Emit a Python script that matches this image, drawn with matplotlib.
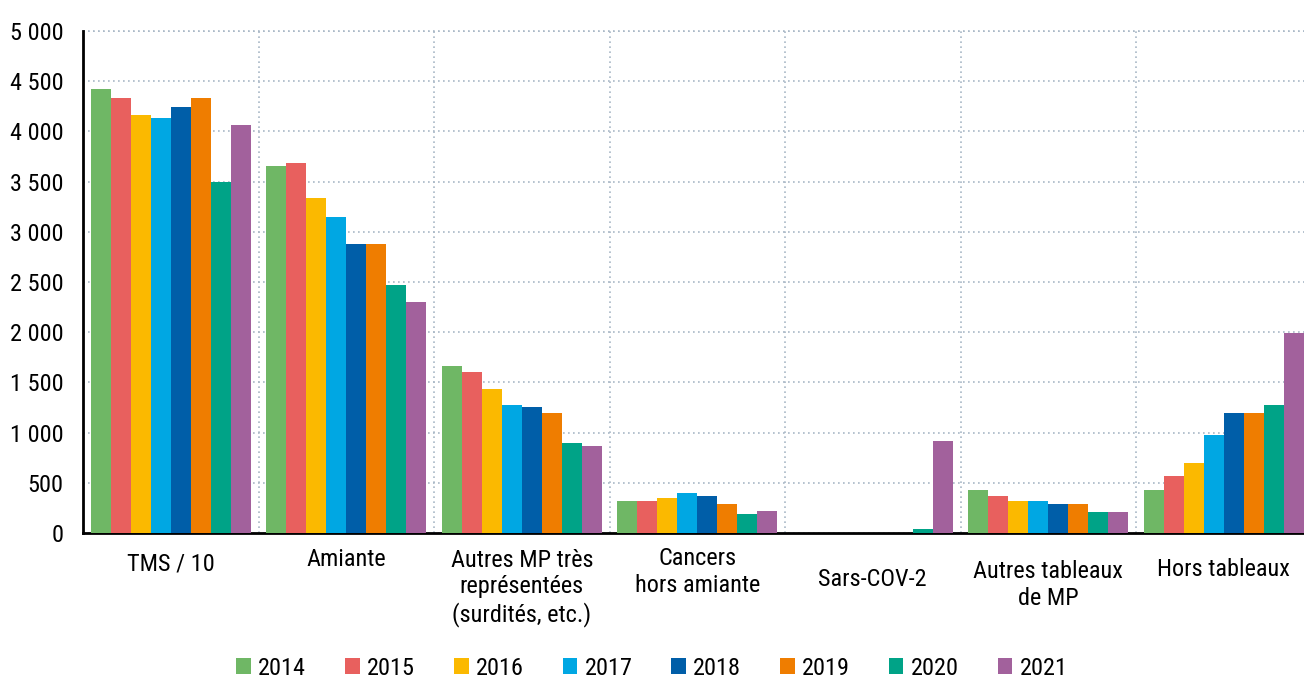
import numpy as np
import matplotlib
matplotlib.use("Agg")
import matplotlib.pyplot as plt
from matplotlib.ticker import FuncFormatter

plt.rcParams["font.family"] = ["Roboto Condensed", "Liberation Sans", "DejaVu Sans"]

categories = ["TMS / 10", "Amiante", "Autres MP très\nreprésentées\n(surdités, etc.)",
              "Cancers\nhors amiante", "Sars-COV-2", "Autres tableaux\nde MP", "Hors tableaux"]
years = ["2014", "2015", "2016", "2017", "2018", "2019", "2020", "2021"]

v2014 = [4420, 3655, 1663, 319, 0, 428, 428]
v2015 = [4333, 3685, 1604, 319, 0, 369, 568]
v2016 = [4163, 3337, 1434, 349, 0, 319, 697]
v2017 = [4133, 3147, 1275, 398, 0, 319, 976]
v2018 = [4243, 2878, 1255, 369, 0, 289, 1195]
v2019 = [4333, 2878, 1195, 289, 0, 289, 1195]
v2020 = [3496, 2470, 896, 189, 40, 209, 1275]
v2021 = [4064, 2300, 867, 219, 916, 209, 1992]
series = [v2014, v2015, v2016, v2017, v2018, v2019, v2020, v2021]

colors = ["#6fb765", "#e8605e", "#fbb900", "#00a7e3", "#005ea8", "#ef7d00", "#00a387", "#a2619c"]

# vertical offset (px below the axis) of each category label
label_offsets = [31, 27, 55, 39, 46, 52, 36]

fig = plt.figure(figsize=(13.04, 6.81), dpi=100)
ax = fig.add_axes([83 / 1304, 1 - 533 / 681, 1 - 83 / 1304, (533 - 31) / 681])

x = np.arange(len(categories))
w = 0.91 / len(years)
for i, (vals, year, c) in enumerate(zip(series, years, colors)):
    ax.bar(x + (i - 3.5) * w, vals, width=w, color=c, label=year, zorder=3)

ax.set_xlim(-0.5, 6.457)
ax.set_ylim(0, 5000)
ax.set_yticks(np.arange(0, 5001, 500))
ax.yaxis.set_major_formatter(FuncFormatter(lambda v, p: f"{int(v):,}".replace(",", " ")))
ax.tick_params(axis="y", length=0, pad=14, labelsize=17.5)
ax.set_xticks(np.arange(0.5, 6.5, 1))
ax.tick_params(axis="x", length=0, labelbottom=False)

ax.grid(True, color="#a9b8c6", linestyle=(0, (1, 2)), linewidth=1.2, zorder=0)
ax.axhline(5000, color="#a9b8c6", linestyle=(0, (1, 2)), linewidth=1.2, clip_on=False)

for s in ["top", "right"]:
    ax.spines[s].set_visible(False)
ax.spines["left"].set_linewidth(2)
ax.spines["bottom"].set_linewidth(2)
ax.spines["left"].set_color("black")
ax.spines["bottom"].set_color("black")

for i, (cat, off) in enumerate(zip(categories, label_offsets)):
    ax.annotate(cat, xy=(i, 0), xycoords=("data", "axes fraction"),
                xytext=(0, -off * 0.72), textcoords="offset points",
                ha="center", va="center", fontsize=17.5, linespacing=1.2,
                annotation_clip=False)

fig.legend(loc="center", bbox_to_anchor=(0.5, 0.019), ncol=8, frameon=False,
           fontsize=17.5, handlelength=0.6, handleheight=0.6, handletextpad=0.3,
           columnspacing=1.6)

fig.savefig("out.png", dpi=100)
